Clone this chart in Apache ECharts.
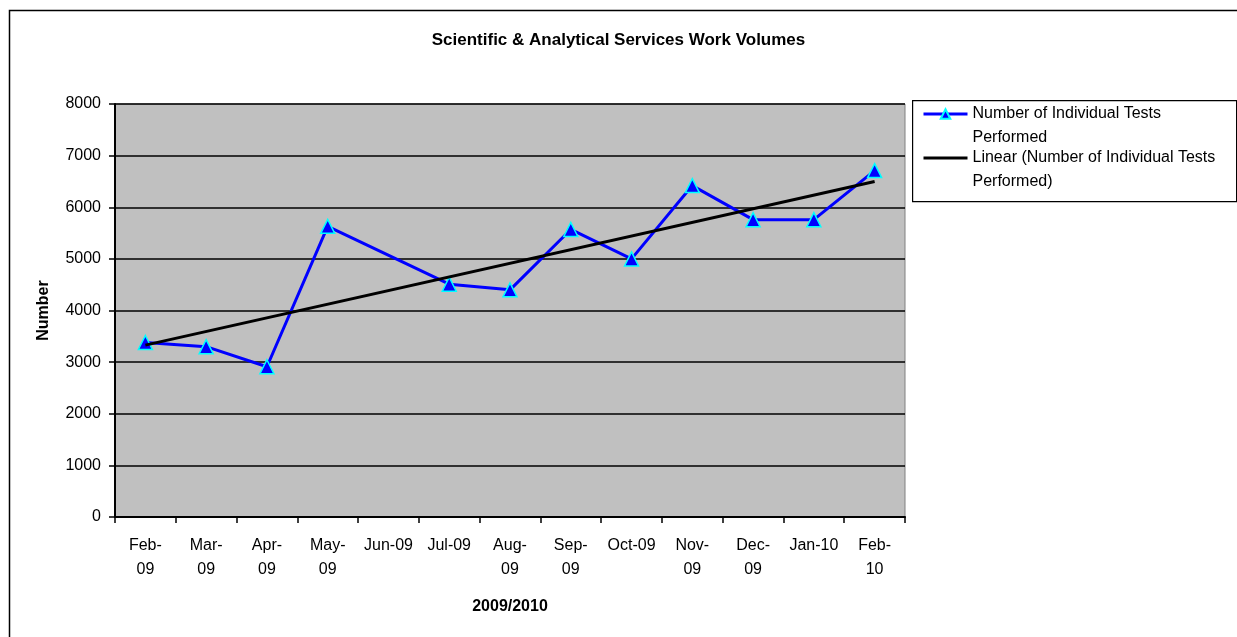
<!DOCTYPE html>
<html>
<head>
<meta charset="utf-8">
<script src="https://cdn.jsdelivr.net/npm/echarts@6/dist/echarts.min.js"></script>
<style>
  html, body { margin: 0; padding: 0; background: #fff; }
  #main { width: 1237px; height: 637px; }
</style>
</head>
<body>
<div id="main"></div>
<script>
// months along the x axis (wrapped the way the original wraps them)
var months = ['Feb-\n09', 'Mar-\n09', 'Apr-\n09', 'May-\n09', 'Jun-09', 'Jul-09', 'Aug-\n09',
              'Sep-\n09', 'Oct-09', 'Nov-\n09', 'Dec-\n09', 'Jan-10', 'Feb-\n10'];
// tests performed per month, no figure for Jun-09
var testsPerformed = [3380, 3300, 2910, 5630, null, 4510, 4400, 5570, 5000, 6420, 5760, 5760, 6710];
// linear trend, read at both ends
var trendLine = [3330, null, null, null, null, null, null, null, null, null, null, null, 6500];
var yTicks = [0, 1000, 2000, 3000, 4000, 5000, 6000, 7000, 8000];

var seriesName = 'Number of Individual Tests Performed';
var trendName = 'Linear (Number of Individual Tests Performed)';
var fontName = '"Liberation Sans", Arial, sans-serif';

var chart = echarts.init(document.getElementById('main'));

// one legend per entry so the icon sits on the first text line
function legendBlock(name, label, top) {
  return {
    data: [name],
    orient: 'vertical',
    left: 922,
    top: top,
    padding: 0,
    itemWidth: 44,
    itemHeight: 12,
    itemGap: 0,
    selectedMode: false,
    lineStyle: { width: 3 },
    formatter: function () { return '\n' + label; },
    textStyle: {
      fontFamily: fontName,
      fontSize: 16,
      lineHeight: 24,
      color: '#000'
    }
  };
}

chart.setOption({
  backgroundColor: '#fff',
  textStyle: { fontFamily: fontName },
  title: {
    text: 'Scientific & Analytical Services Work Volumes',
    left: 'center',
    top: 27,
    textStyle: { fontFamily: fontName, fontSize: 17, fontWeight: 'bold', color: '#000' }
  },
  legend: [
    legendBlock(seriesName, 'Number of Individual Tests\nPerformed', 78),
    legendBlock(trendName, 'Linear (Number of Individual Tests\nPerformed)', 122)
  ],
  grid: {
    left: 115,
    right: 332,
    top: 104,
    bottom: 120,
    show: true,
    backgroundColor: '#C0C0C0',
    borderColor: '#808080',
    borderWidth: 1
  },
  xAxis: {
    type: 'category',
    data: months,
    boundaryGap: true,
    name: '2009/2010',
    nameLocation: 'middle',
    nameGap: 82,
    nameTextStyle: { fontFamily: fontName, fontSize: 16, fontWeight: 'bold', color: '#000' },
    axisLine: { lineStyle: { color: '#000', width: 2 } },
    axisTick: { show: true, length: 6, lineStyle: { color: '#000', width: 1.5 } },
    axisLabel: { interval: 0, margin: 17, fontSize: 16, lineHeight: 24, color: '#000', fontFamily: fontName },
    splitLine: { show: false }
  },
  yAxis: {
    type: 'value',
    min: yTicks[0],
    max: yTicks[yTicks.length - 1],
    interval: yTicks[1] - yTicks[0],
    name: 'Number',
    nameLocation: 'middle',
    nameGap: 63,
    nameTextStyle: { fontFamily: fontName, fontSize: 16, fontWeight: 'bold', color: '#000' },
    axisLine: { show: true, lineStyle: { color: '#000', width: 2 } },
    axisTick: { show: true, length: 6, lineStyle: { color: '#000', width: 1.5 } },
    axisLabel: {
      margin: 14, fontSize: 16, color: '#000', fontFamily: fontName,
      formatter: function (v) { return String(v); }
    },
    splitLine: { show: true, lineStyle: { color: '#000', width: 1.5 } }
  },
  series: [
    {
      name: seriesName,
      type: 'line',
      data: testsPerformed,
      connectNulls: true,
      symbol: 'triangle',
      symbolSize: 14,
      lineStyle: { color: '#0000FF', width: 3 },
      itemStyle: { color: '#0000FF', borderColor: '#00FFFF', borderWidth: 1.5 },
      z: 3
    },
    {
      name: trendName,
      type: 'line',
      data: trendLine,
      connectNulls: true,
      symbol: 'circle',
      showSymbol: false,
      lineStyle: { color: '#000', width: 3 },
      itemStyle: { color: '#000', opacity: 0 },
      z: 4
    }
  ],
  graphic: [
    {
      type: 'rect',
      left: 7, top: 8,
      shape: { x: 0, y: 0, width: 1260, height: 660 },
      style: { fill: 'none', stroke: '#000', lineWidth: 1.5 },
      silent: true
    },
    {
      type: 'rect',
      left: 912, top: 100,
      shape: { x: 0, y: 0, width: 324, height: 101 },
      style: { fill: '#fff', stroke: '#000', lineWidth: 1.2 },
      silent: true,
      z: -1
    }
  ]
});
</script>
</body>
</html>
